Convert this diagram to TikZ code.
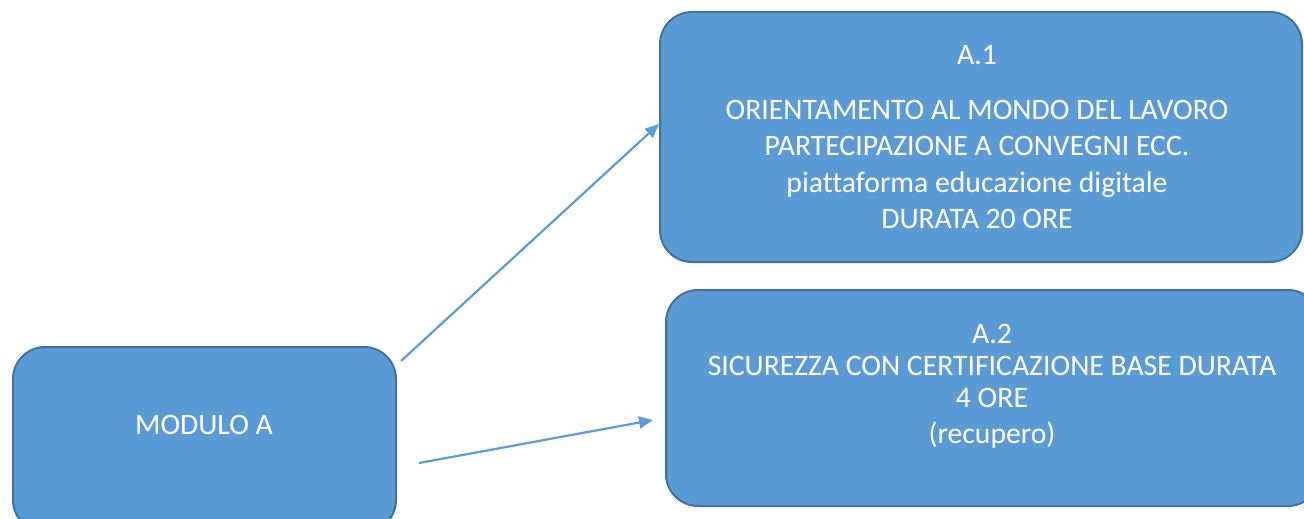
\documentclass[tikz,border=0pt]{standalone}
\usepackage{fontspec}
\setmainfont{Carlito}[Ligatures=NoCommon]
\usetikzlibrary{arrows.meta}
\definecolor{boxfill}{HTML}{5B9BD5}
\definecolor{boxline}{HTML}{41719C}
\definecolor{arrowcol}{HTML}{5B9BD5}
\tikzset{
  modbox/.style={draw=boxline, line width=2pt, fill=boxfill, rounded corners=32pt, inner sep=0pt},
  boxtext/.style={text=white, align=center, inner sep=0pt, font=\fontsize{29.7}{36.5}\selectfont},
  link/.style={draw=arrowcol, line width=2.2pt, -{Triangle[length=14pt,width=12pt]}}
}
\begin{document}
\begin{tikzpicture}[x=1pt,y=-1pt]
\useasboundingbox (0,0) rectangle (1304,519);
\clip (0,0) rectangle (1304,519);
% boxes
\node[modbox, minimum width=383pt, minimum height=185pt] (mA) at (204.5,439.5) {};
\node[modbox, minimum width=642pt, minimum height=250pt] (a1) at (981,137) {};
\node[modbox, minimum width=654pt, minimum height=216pt] (a2) at (993,398) {};
% texts
\node[boxtext, anchor=center] (tA) at (204,425) {MODULO A};
\node[boxtext, anchor=north] (t1) at (977,45.5) {A.1\\[18pt]ORIENTAMENTO AL MONDO DEL LAVORO\\PARTECIPAZIONE A CONVEGNI ECC.\\piattaforma educazione digitale\\DURATA 20 ORE};
\node[boxtext, anchor=north, font=\fontsize{29.7}{32}\selectfont] (t2) at (992,324) {A.2\\SICUREZZA CON CERTIFICAZIONE BASE DURATA\\4 ORE\\[4.5pt](recupero)};
% connectors
\coordinate (s1) at (401,361);
\coordinate (e1) at (659,124);
\coordinate (s2) at (419,463);
\coordinate (e2) at (653,420);
\draw[link] (s1) -- (e1);
\draw[link] (s2) -- (e2);
\end{tikzpicture}
\end{document}
